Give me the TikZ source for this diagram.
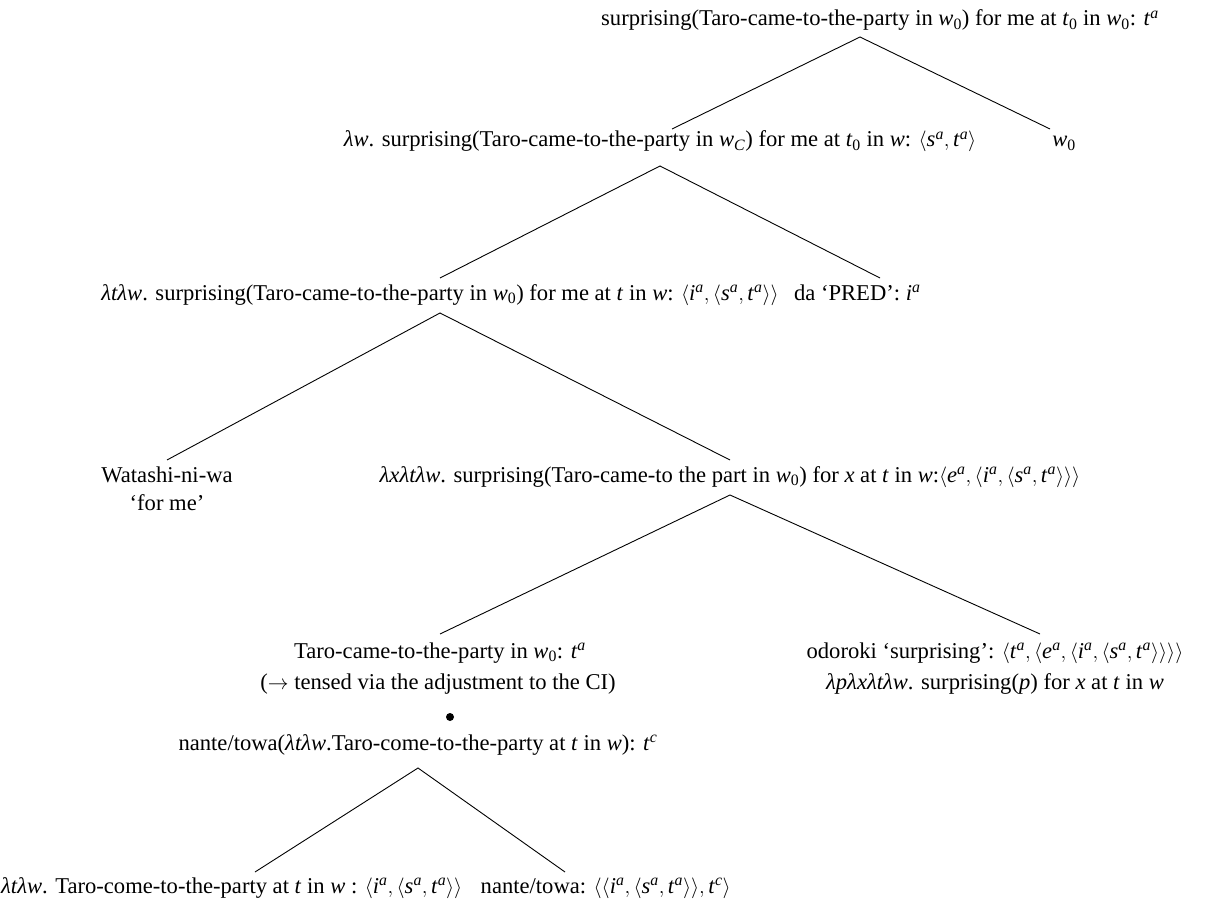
\documentclass[tikz,border=0pt]{standalone}
\usepackage{amsmath}
\usepackage{fontspec}
\setmainfont{Liberation Serif}
\newcommand{\It}[1]{\textit{#1}}
\newcommand{\Sb}[2]{\text{\textit{#1}\textsubscript{#2}}}
\newcommand{\Sp}[2]{\text{\textit{#1}\textsuperscript{\textit{#2}}}}
\newcommand{\ang}[1]{\ensuremath{\langle #1\rangle}}
\tikzset{
  lbl/.style={inner sep=0pt, anchor=base, font=\fontsize{22.6}{27}\selectfont},
  edge/.style={line width=0.9pt, black},
}
\begin{document}
\begin{tikzpicture}[x=1pt,y=-1pt]
\useasboundingbox (0,0) rectangle (1220,909);
% nodes
\node[lbl] (root) at (880,26) {surprising(Taro-came-to-the-party in \Sb{w}{0}) for me at \Sb{t}{0} in \Sb{w}{0}: \Sp{t}{a}};
\node[lbl] (n2a) at (660,147) {\It{λw}. surprising(Taro-came-to-the-party in \Sb{w}{\textit{C}}) for me at \Sb{t}{0} in \It{w}: \ang{\Sp{s}{a},\Sp{t}{a}}};
\node[lbl] (n2b) at (1064,147) {\Sb{w}{0}};
\node[lbl] (n3a) at (440,300) {\It{λtλw}. surprising(Taro-came-to-the-party in \Sb{w}{0}) for me at \It{t} in \It{w}: \ang{\Sp{i}{a},\ang{\Sp{s}{a},\Sp{t}{a}}}};
\node[lbl, anchor=base west] (n3b) at ([xshift=15pt]n3a.base east) {da `PRED': \Sp{i}{a}};
\node[lbl] (n4a) at (167,482) {Watashi-ni-wa};
\node[lbl] (n4a2) at (167,510) {`for me'};
\node[lbl] (n4b) at (730,482) {\It{λxλtλw}. surprising(Taro-came-to the part in \Sb{w}{0}) for \It{x} at \It{t} in \It{w}:\ang{\Sp{e}{a},\ang{\Sp{i}{a},\ang{\Sp{s}{a},\Sp{t}{a}}}}};
\node[lbl] (n5a) at (440,658) {Taro-came-to-the-party in \Sb{w}{0}: \Sp{t}{a}};
\node[lbl] (n5a2) at (438,689) {($\rightarrow$ tensed via the adjustment to the CI)};
\node[circle, fill=black, inner sep=0pt, minimum size=8pt] (dot) at (450,717) {};
\node[lbl] (n5c) at (418,750) {nante/towa(\It{λtλw}.Taro-come-to-the-party at \It{t} in \It{w}): \Sp{t}{c}};
\node[lbl] (n5b) at (995,658) {odoroki `surprising': \ang{\Sp{t}{a},\ang{\Sp{e}{a},\ang{\Sp{i}{a},\ang{\Sp{s}{a},\Sp{t}{a}}}}}};
\node[lbl] (n5b2) at (995,689) {\It{λpλxλtλw}. surprising(\It{p}) for \It{x} at \It{t} in \It{w}};
\node[lbl, anchor=base west] (n6a) at (1,893) {\It{λtλw}. Taro-come-to-the-party at \It{t} in \It{w} : \ang{\Sp{i}{a},\ang{\Sp{s}{a},\Sp{t}{a}}}};
\node[lbl, anchor=base west] (n6b) at ([xshift=18pt]n6a.base east) {nante/towa: \ang{\ang{\Sp{i}{a},\ang{\Sp{s}{a},\Sp{t}{a}}},\Sp{t}{c}}};
% branch points
\coordinate (a1) at (860,37);  \coordinate (a1l) at (672,129); \coordinate (a1r) at (1050,129);
\coordinate (a2) at (660,166); \coordinate (a2l) at (440,278); \coordinate (a2r) at (880,278);
\coordinate (a3) at (440,313); \coordinate (a3l) at (167,460); \coordinate (a3r) at (730,460);
\coordinate (a4) at (730,495); \coordinate (a4l) at (440,634); \coordinate (a4r) at (1040,634);
\coordinate (a5) at (418,768); \coordinate (a5l) at (255,872); \coordinate (a5r) at (565,872);
\draw[edge] (a1l) -- (a1) -- (a1r);
\draw[edge] (a2l) -- (a2) -- (a2r);
\draw[edge] (a3l) -- (a3) -- (a3r);
\draw[edge] (a4l) -- (a4) -- (a4r);
\draw[edge] (a5l) -- (a5) -- (a5r);
\end{tikzpicture}
\end{document}
